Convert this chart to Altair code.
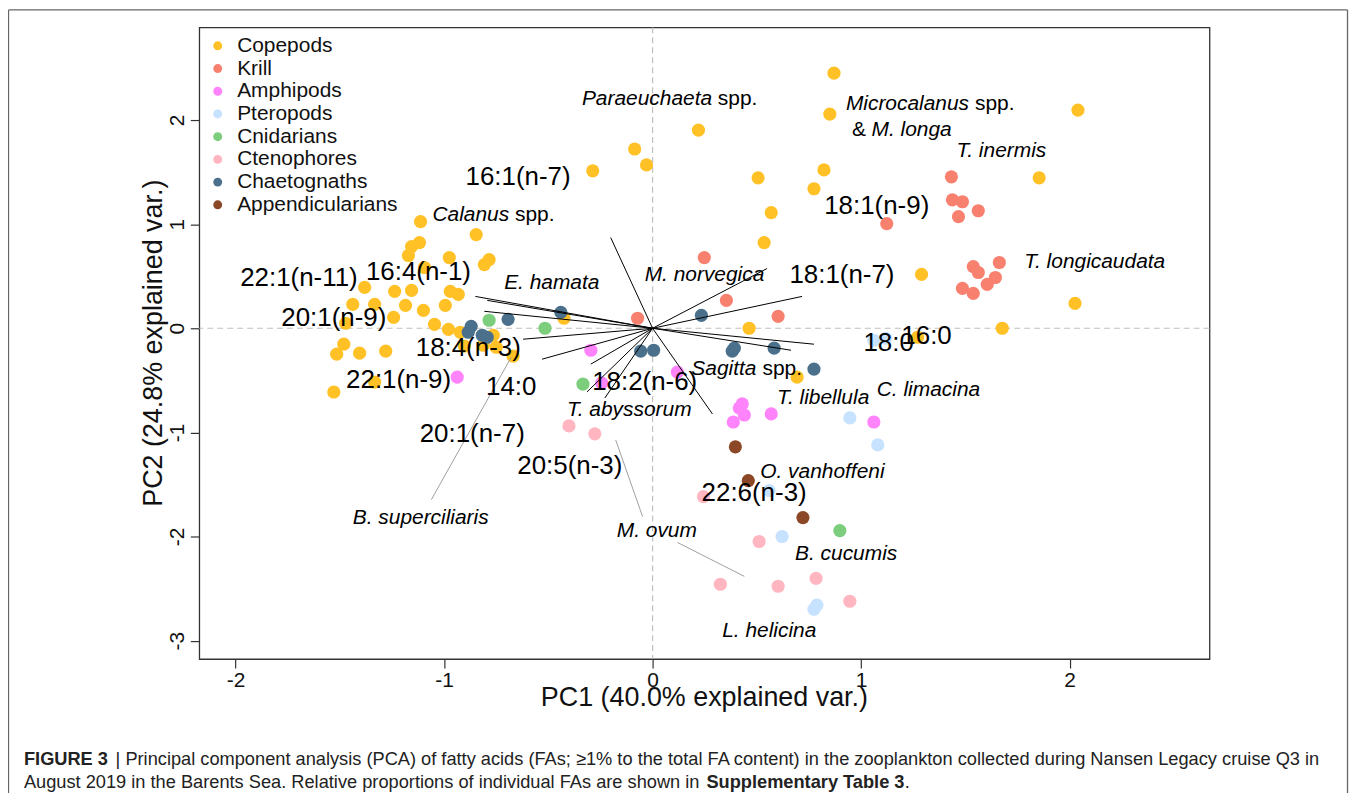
import altair as alt
import pandas as pd

# ---------------- data ----------------
groups = ["Copepods", "Krill", "Amphipods", "Pteropods", "Cnidarians",
          "Ctenophores", "Chaetognaths", "Appendicularians"]
colors = ["#FFC125", "#F8806F", "#FF83FA", "#C6E2FF", "#7CCD7C",
          "#FFB6C1", "#4A708B", "#8B4726"]

cop_pc1 = [-1.113, -0.846, -1.118, -1.156, -1.171, -0.975, -0.784, -0.807, -1.094, -1.381,
           -1.237, -1.156, -0.970, -0.932, -1.438, -1.333, -1.185, -1.099, -0.994, -1.472,
           -1.242, -1.046, -0.979, -0.922, -1.481, -1.515, -1.405, -1.280, -0.764, -0.750,
           -0.669, -1.333, -1.529, -0.903, -0.812, -0.425, -0.287, -0.086, -0.029, 0.220,
           0.870, 0.850, 0.506, 0.822, 0.774, 0.569, 0.535, 2.040, 1.854, 1.290,
           2.026, 1.677, 1.271, 0.463, 0.693]
cop_pc2 = [1.024, 0.900, 0.823, 0.785, 0.699, 0.679, 0.660, 0.612, 0.584, 0.392,
           0.354, 0.364, 0.354, 0.325, 0.230, 0.230, 0.220, 0.172, 0.220, 0.048,
           0.105, 0.038, -0.010, -0.038, -0.153, -0.249, -0.239, -0.220, -0.067, -0.182,
           -0.268, -0.517, -0.612, -0.172, -0.163, 0.096, 1.512, 1.722, 1.569, 1.904,
           2.450, 2.057, 1.445, 1.521, 1.340, 1.110, 0.823, 2.096, 1.445, 0.517,
           0.239, 0.0, -0.086, 0.0, -0.469]

krill_pc1 = [1.433, 1.438, 1.486, 1.467, 1.562, 1.123, 1.538, 1.562, 1.663, 1.644,
             1.605, 1.486, 1.538, 0.248, 0.354, 0.602, -0.072]
krill_pc2 = [1.455, 1.234, 1.215, 1.072, 1.129, 1.005, 0.593, 0.536, 0.632, 0.488,
             0.421, 0.383, 0.335, 0.679, 0.268, 0.115, 0.096]

amph_pc1 = [-0.296, 0.119, -0.937, -0.244, 0.430, 0.416, 0.440, 0.387, 0.569, 1.061]
amph_pc2 = [-0.211, -0.421, -0.469, -0.526, -0.727, -0.766, -0.833, -0.900, -0.823, -0.900]

ptero_pc1 = [1.061, 1.118, 0.946, 1.080, 0.559, 0.621, 0.774, 0.788]
ptero_pc2 = [-0.115, -0.096, -0.861, -1.120, -1.560, -2.000, -2.699, -2.660]

cnid_pc1 = [-0.784, -0.516, -0.334, 0.898]
cnid_pc2 = [0.077, 0.0, -0.536, -1.943]

cteno_pc1 = [-0.401, -0.277, 0.244, 0.511, 0.325, 0.602, 0.784, 0.946]
cteno_pc2 = [-0.938, -1.014, -1.617, -2.048, -2.459, -2.478, -2.402, -2.622]

chaet_pc1 = [-0.870, -0.884, -0.817, -0.793, -0.693, -0.440, -0.057, 0.005, 0.234,
             0.382, 0.392, 0.583, 0.774]
chaet_pc2 = [0.019, -0.038, -0.067, -0.086, 0.086, 0.153, -0.220, -0.211, 0.124,
             -0.220, -0.191, -0.191, -0.392]

app_pc1 = [0.397, 0.459, 0.721]
app_pc2 = [-1.139, -1.464, -1.818]

# loading arrows (end points, origin at 0,0)
arrow_pc1 = [-0.201, -0.850, -0.793, -0.807, -0.621, -0.530, -0.296, -0.315, -0.229,
             0.287, 0.549, 0.717, 0.774, 0.664]
arrow_pc2 = [0.871, 0.306, 0.268, 0.163, -0.105, -0.297, -0.344, -0.612, -0.670,
             -0.823, 0.574, 0.306, -0.153, -0.211]

fa_names = ["16:1(n-7)", "22:1(n-11)", "16:4(n-1)", "20:1(n-9)", "18:4(n-3)", "22:1(n-9)",
            "14:0", "18:2(n-6)", "20:1(n-7)", "20:5(n-3)", "22:6(n-3)", "18:0", "16:0",
            "18:1(n-7)", "18:1(n-9)"]
fa_pc1 = [-0.645, -1.696, -1.123, -1.529, -0.884, -1.218, -0.678, -0.038, -0.865, -0.397,
          0.487, 1.132, 1.314, 0.908, 1.075]
fa_pc2 = [1.455, 0.478, 0.536, 0.096, -0.191, -0.498, -0.565, -0.517, -1.014, -1.321,
          -1.579, -0.144, -0.077, 0.507, 1.177]

sp_italic = ["Paraeuchaeta", "Microcalanus", "M. longa", "T. inermis", "T. longicaudata",
             "Calanus", "E. hamata", "M. norvegica", "Sagitta", "T. libellula",
             "C. limacina", "T. abyssorum", "O. vanhoffeni", "B. superciliaris",
             "M. ovum", "B. cucumis", "L. helicina"]
sp_italic_pc1 = [-0.339, 0.927, 1.050, 1.457, 1.782, -1.056, -0.712, -0.038, 0.186, 0.597,
                 1.075, -0.411, 0.516, -1.438, -0.172, 0.683, 0.334]
sp_italic_pc2 = [2.201, 2.153, 1.904, 1.703, 0.632, 1.091, 0.431, 0.507, -0.392, -0.670,
                 -0.593, -0.785, -1.378, -1.818, -1.943, -2.172, -2.909]
sp_plain = ["spp.", "spp.", "&", "spp.", "spp."]
sp_plain_pc1 = [0.313, 1.546, 0.956, -0.660, 0.527]
sp_plain_pc2 = [2.201, 2.153, 1.904, 1.091, -0.392]

# leader lines for labels
lead_pc1 = [-1.061, -0.177, 0.119]
lead_pc2 = [-1.646, -1.072, -2.057]
lead_pc1_end = [-0.678, -0.048, 0.440]
lead_pc2_end = [-0.278, -1.809, -2.383]

x_ticks = [-2, -1, 0, 1, 2]
y_ticks = [-3, -2, -1, 0, 1, 2]

# ---------------- tables ----------------
series = [cop_pc1, krill_pc1, amph_pc1, ptero_pc1, cnid_pc1, cteno_pc1, chaet_pc1, app_pc1]
series2 = [cop_pc2, krill_pc2, amph_pc2, ptero_pc2, cnid_pc2, cteno_pc2, chaet_pc2, app_pc2]
rows = []
for i, (g, a, b) in enumerate(zip(groups, series, series2)):
    for j, (u, v) in enumerate(zip(a, b)):
        rows.append({"group": g, "order": i * 1000 + j, "PC1": u, "PC2": v})
pts = pd.DataFrame(rows)

arrows = pd.DataFrame({"PC1": [0.0] * len(arrow_pc1), "PC2": [0.0] * len(arrow_pc1),
                       "x2": arrow_pc1, "y2": arrow_pc2})
fas = pd.DataFrame({"name": fa_names, "PC1": fa_pc1, "PC2": fa_pc2})
spi = pd.DataFrame({"name": sp_italic, "PC1": sp_italic_pc1, "PC2": sp_italic_pc2})
spp = pd.DataFrame({"name": sp_plain, "PC1": sp_plain_pc1, "PC2": sp_plain_pc2})
leads = pd.DataFrame({"PC1": lead_pc1, "PC2": lead_pc2, "x2": lead_pc1_end, "y2": lead_pc2_end})
zx = pd.DataFrame({"PC1": [0.0]})
zy = pd.DataFrame({"PC2": [0.0]})
one = pd.DataFrame({"a": [0]})

FONT = "Liberation Sans"
xs = alt.Scale(domain=[-2.174, 2.671], nice=False, zero=False)
ys = alt.Scale(domain=[-3.177, 2.89], nice=False, zero=False)
xaxis = alt.Axis(values=x_ticks, title=None, grid=False, domain=False, tickSize=9,
                 tickColor="#333", tickWidth=1.2, labelFontSize=21, labelFont=FONT,
                 labelColor="#111", labelPadding=2, labelExpr="'' + datum.value")
yaxis = alt.Axis(values=y_ticks, title=None, grid=False, domain=False, tickSize=9,
                 tickColor="#333", tickWidth=1.2, labelFontSize=21, labelFont=FONT,
                 labelColor="#111", labelAngle=270, labelAlign="center",
                 labelBaseline="bottom", labelPadding=3, labelExpr="'' + datum.value")
X = alt.X("PC1:Q", scale=xs, axis=xaxis)
Y = alt.Y("PC2:Q", scale=ys, axis=yaxis)

zero_x = alt.Chart(zx).mark_rule(color="#C0C0C0", strokeDash=[6, 4], strokeWidth=1.2).encode(x=X)
zero_y = alt.Chart(zy).mark_rule(color="#C0C0C0", strokeDash=[6, 4], strokeWidth=1.2).encode(y=Y)

points = alt.Chart(pts).mark_circle(size=175, opacity=1).encode(
    x=X, y=Y,
    color=alt.Color("group:N", scale=alt.Scale(domain=groups, range=colors),
                    legend=alt.Legend(orient="none", legendX=8, legendY=8, title=None,
                                      labelFontSize=21, labelFont=FONT, labelColor="#111",
                                      symbolType="circle", symbolSize=80,
                                      symbolStrokeWidth=0, rowPadding=0.8, padding=0,
                                      labelOffset=9, labelLimit=400)),
    order=alt.Order("order:Q"),
)

arrow_lines = alt.Chart(arrows).mark_rule(color="black", strokeWidth=1).encode(
    x=X, y=Y, x2="x2:Q", y2="y2:Q")
lead_lines = alt.Chart(leads).mark_rule(color="#A0A0A0", strokeWidth=1).encode(
    x=X, y=Y, x2="x2:Q", y2="y2:Q")

fa_text = alt.Chart(fas).mark_text(font=FONT, fontSize=26, color="black",
                                   align="center", baseline="middle").encode(
    x=X, y=Y, text="name:N")
sp_it_text = alt.Chart(spi).mark_text(font=FONT, fontSize=21, fontStyle="italic",
                                      color="black", align="left", baseline="middle").encode(
    x=X, y=Y, text="name:N")
sp_pl_text = alt.Chart(spp).mark_text(font=FONT, fontSize=21, color="black",
                                      align="left", baseline="middle").encode(
    x=X, y=Y, text="name:N")

# axis titles (pixel positions relative to the plot area)
xtitle = alt.Chart(one).mark_text(font=FONT, fontSize=27, color="#111", align="center",
                                  baseline="middle", text="PC1 (40.0% explained var.)").encode(
    x=alt.value(507), y=alt.value(673))
ytitle = alt.Chart(one).mark_text(font=FONT, fontSize=27, color="#111", align="center",
                                  baseline="middle", angle=270,
                                  text="PC2 (24.8% explained var.)").encode(
    x=alt.value(-45), y=alt.value(317))

# outer figure border
border_l = alt.Chart(one).mark_rule(color="#666", strokeWidth=1.3).encode(
    x=alt.value(-191.5), y=alt.value(-17.5), y2=alt.value(780))
border_t = alt.Chart(one).mark_rule(color="#666", strokeWidth=1.3).encode(
    x=alt.value(-191.5), x2=alt.value(1152.5), y=alt.value(-17.5))
border_r = alt.Chart(one).mark_rule(color="#666", strokeWidth=1.3).encode(
    x=alt.value(1152.5), y=alt.value(-17.5), y2=alt.value(780))

# caption
CAP = 18.3
cap1b = alt.Chart(one).mark_text(font=FONT, fontSize=CAP, fontWeight="bold", color="#222",
                                 align="left", baseline="alphabetic", text="FIGURE 3").encode(
    x=alt.value(-176), y=alt.value(740))
cap1 = alt.Chart(one).mark_text(font=FONT, fontSize=CAP, color="#222", align="left",
                                baseline="alphabetic",
                                text="| Principal component analysis (PCA) of fatty acids (FAs; \u22651% to the total FA content) in the zooplankton collected during Nansen Legacy cruise Q3 in").encode(
    x=alt.value(-84), y=alt.value(740))
cap2 = alt.Chart(one).mark_text(font=FONT, fontSize=CAP, color="#222", align="left",
                                baseline="alphabetic",
                                text="August 2019 in the Barents Sea. Relative proportions of individual FAs are shown in").encode(
    x=alt.value(-176), y=alt.value(763))
cap2b = alt.Chart(one).mark_text(font=FONT, fontSize=CAP, fontWeight="bold", color="#222",
                                 align="left", baseline="alphabetic",
                                 text="Supplementary Table 3").encode(
    x=alt.value(509), y=alt.value(763))
cap2c = alt.Chart(one).mark_text(font=FONT, fontSize=CAP, color="#222", align="left",
                                 baseline="alphabetic", text=".").encode(
    x=alt.value(708), y=alt.value(763))

chart = alt.layer(
    zero_x, zero_y, points, arrow_lines, lead_lines, fa_text, sp_it_text, sp_pl_text,
    xtitle, ytitle, border_l, border_t, border_r, cap1b, cap1, cap2, cap2b, cap2c
).properties(
    width=1014, height=634,
    autosize=alt.AutoSizeParams(type="none"),
    padding={"left": 192, "top": 18, "right": 140, "bottom": 133},
).configure_view(stroke="#333", strokeWidth=1.3)

chart.save("out.html", embed_options={"renderer": "svg", "actions": False})
